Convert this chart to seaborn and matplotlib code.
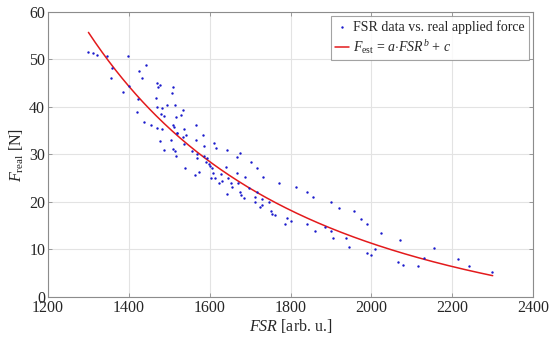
import numpy as np
import pandas as pd
import matplotlib
matplotlib.use("Agg")
import matplotlib.pyplot as plt
import seaborn as sns

# ---- data ----
fsr = [1300, 1312, 1320, 1345, 1397, 1358, 1355, 1385, 1400, 1442, 1424, 1433,
       1423, 1419, 1437, 1455, 1469, 1481, 1467, 1470, 1477, 1472, 1508, 1507,
       1469, 1482, 1495, 1515, 1533, 1479, 1487, 1517, 1528, 1510, 1512, 1518,
       1520, 1536, 1541, 1533, 1565, 1583, 1476, 1504, 1536, 1487, 1508, 1514,
       1516, 1566, 1586, 1555, 1569, 1568, 1586, 1593, 1611, 1616, 1642, 1674,
       1668, 1540, 1564, 1574, 1591, 1598, 1601, 1606, 1609, 1604, 1613, 1624,
       1630, 1628, 1640, 1642, 1645, 1652, 1656, 1668, 1669, 1675, 1678, 1685,
       1687, 1698, 1703, 1712, 1712, 1718, 1716, 1729, 1730, 1724, 1731, 1747,
       1752, 1753, 1762, 1771, 1785, 1792, 1800, 1814, 1840, 1855, 1840, 1861,
       1885, 1899, 1900, 1905, 1921, 1937, 1945, 1956, 1974, 1988, 1990, 1999,
       2010, 2023, 2071, 2065, 2079, 2116, 2131, 2154, 2214, 2242, 2298]
force = [51.5, 51.4, 51.0, 50.7, 50.8, 48.3, 46.0, 43.2, 44.5, 48.8, 47.6, 46.0,
         41.6, 38.9, 36.9, 36.1, 35.6, 35.4, 41.9, 45.0, 44.6, 44.3, 44.3, 42.9,
         39.9, 39.8, 40.4, 40.4, 39.3, 38.6, 38.0, 37.8, 38.4, 36.3, 35.8, 34.6,
         34.5, 35.4, 34.2, 33.7, 36.2, 34.1, 32.8, 33.0, 32.1, 31.0, 31.2, 30.7,
         29.7, 33.0, 31.8, 30.7, 30.1, 29.3, 29.7, 29.2, 32.5, 31.4, 30.9, 30.3,
         29.4, 27.2, 25.7, 26.3, 28.5, 28.1, 27.6, 27.1, 26.2, 25.1, 25.1, 24.0,
         24.4, 25.8, 27.4, 21.7, 25.1, 23.9, 23.1, 26.0, 23.9, 22.2, 21.5, 20.9,
         25.3, 23.0, 28.4, 21.1, 19.9, 27.1, 22.0, 20.6, 19.3, 18.9, 25.2, 20.0,
         18.0, 17.4, 17.3, 24.0, 15.4, 16.6, 16.0, 23.2, 22.0, 21.0, 15.4, 13.8,
         14.7, 19.9, 13.8, 12.4, 18.7, 12.4, 10.5, 18.0, 16.5, 15.4, 9.2, 8.8,
         10.0, 13.5, 12.0, 7.4, 6.8, 6.5, 8.3, 10.4, 8.1, 6.6, 5.3]

# fitted model F_est = a*FSR^b + c (parameters estimated from the drawn curve)
fit_a = 3.448e9
fit_b = -2.475
fit_c = -12.0
fit_range = [1300, 2300]

x_ticks = [1200, 1400, 1600, 1800, 2000, 2200, 2400]
y_ticks = [0, 10, 20, 30, 40, 50, 60]

# ---- style ----
sns.set_theme(style="white")
plt.rcParams["font.family"] = ["Liberation Serif", "DejaVu Serif"]
plt.rcParams["mathtext.fontset"] = "custom"
plt.rcParams["mathtext.rm"] = "Liberation Serif"
plt.rcParams["mathtext.it"] = "Liberation Serif:italic"
plt.rcParams["mathtext.bf"] = "Liberation Serif:bold"

fig = plt.figure(figsize=(5.5, 3.41), dpi=100)
ax = fig.add_axes([0.0873, 0.129, 0.882, 0.836])

df = pd.DataFrame({"FSR": fsr, "F": force})
sns.scatterplot(data=df, x="FSR", y="F", ax=ax, s=3, color="#1a1acc",
                marker="o", linewidth=0, label="FSR data vs. real applied force",
                zorder=3)

xs = np.linspace(fit_range[0], fit_range[1], 300)
fit_df = pd.DataFrame({"FSR": xs, "F": fit_a * xs ** fit_b + fit_c})
sns.lineplot(data=fit_df, x="FSR", y="F", ax=ax, color="#e31a1c", linewidth=1.1,
             label=r"$F_{\mathrm{est}}$ = $a{\cdot}FSR^{b}$ + $c$", zorder=2)

ax.set_xlim(1200, 2400)
ax.set_ylim(0, 60)
ax.set_xticks(x_ticks)
ax.set_yticks(y_ticks)
ax.grid(True, color="#e3e3e3", linewidth=0.8)
for sp in ax.spines.values():
    sp.set_color("#8c8c8c")
    sp.set_linewidth(0.8)
ax.tick_params(direction="in", length=3, width=0.6, color="#8c8c8c",
               top=True, right=True, bottom=True, left=True,
               labelsize=11.5, labelcolor="#262626", pad=2)

ax.set_xlabel(r"$FSR$ [arb. u.]", fontsize=11.5, color="#262626", labelpad=1)
ax.set_ylabel(r"$F_{\mathrm{real}}$ [N]", fontsize=11.5, color="#262626", labelpad=2)

leg = ax.legend(loc="upper right", fontsize=10, frameon=True, fancybox=False,
                handlelength=1.0, handletextpad=0.3, borderpad=0.3,
                labelspacing=0.25, borderaxespad=0.3, markerscale=1.0)
leg.get_frame().set_edgecolor("#8c8c8c")
leg.get_frame().set_linewidth(0.8)
for t in leg.get_texts():
    t.set_color("#262626")

fig.savefig("out.png", dpi=100)
